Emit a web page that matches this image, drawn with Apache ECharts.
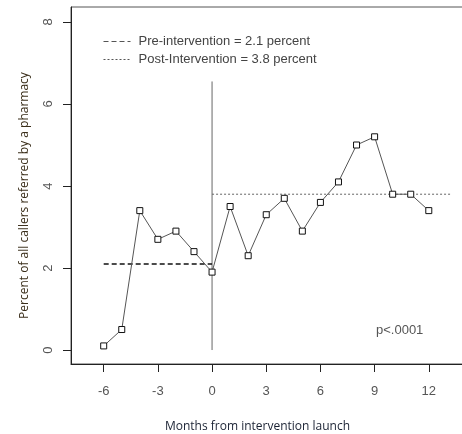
<!DOCTYPE html>
<html>
<head>
<meta charset="utf-8">
<script src="https://cdn.jsdelivr.net/npm/echarts@6/dist/echarts.min.js"></script>
<style>html,body{margin:0;padding:0;background:#fff;}#c{width:462px;height:434px;}</style>
</head>
<body>
<div id="c"></div>
<script>
var months = [-6,-5,-4,-3,-2,-1,0,1,2,3,4,5,6,7,8,9,10,11,12];
var percents = [0.1,0.5,3.4,2.7,2.9,2.4,1.9,3.5,2.3,3.3,3.7,2.9,3.6,4.1,5.0,5.2,3.8,3.8,3.4];
var xTicks = [-6,-3,0,3,6,9,12];
var yTicks = [0,2,4,6,8];
var preName = 'Pre-intervention = 2.1 percent';
var postName = 'Post-Intervention = 3.8 percent';
var preMean = 2.1, postMean = 3.8;
var preRange = [-6, 0];
var postRange = [0, 13.2];
var launchLine = [[0, 0], [0, 6.55]];
var pText = 'p<.0001';

var chart = echarts.init(document.getElementById('c'));
var tickFont = {fontFamily: 'Liberation Sans', fontSize: 13, color: '#555'};
chart.setOption({
  animation: false,
  grid: {left: 71, top: 7, right: -2, bottom: 70, show: true, borderColor: '#555', borderWidth: 1,
         containLabel: false, outerBoundsMode: 'none'},
  legend: {
    data: [preName, postName],
    orient: 'vertical', left: 98, top: 30, itemWidth: 27, itemHeight: 13, itemGap: 5,
    itemStyle: {color: 'transparent', borderWidth: 0, opacity: 0},
    lineStyle: {width: 1, color: '#555'},
    textStyle: {fontFamily: 'Liberation Sans', fontSize: 13, color: '#444', padding: [0,0,0,3]},
    selectedMode: false
  },
  xAxis: {
    type: 'value', min: -7.81, max: 13.95,
    name: 'Months from intervention launch', nameLocation: 'middle', nameGap: 57,
    nameTextStyle: {fontFamily: 'Open Sans', fontSize: 12, color: '#1a2233', padding: [0,20,0,0]},
    axisLine: {show: true, onZero: false, lineStyle: {color: '#222'}},
    axisTick: {show: true, length: 8, lineStyle: {color: '#222'}, customValues: xTicks},
    axisLabel: Object.assign({margin: 21, customValues: xTicks}, tickFont),
    splitLine: {show: false}
  },
  yAxis: {
    type: 'value', min: -0.341, max: 8.366,
    name: 'Percent of all callers referred by a pharmacy', nameLocation: 'middle', nameGap: 40, nameRotate: 90,
    nameTextStyle: {fontFamily: 'Open Sans', fontSize: 12, color: '#3a2e1a', padding: [0,20,0,0]},
    axisLine: {show: true, onZero: false, lineStyle: {color: '#222'}},
    axisTick: {show: true, length: 8, lineStyle: {color: '#222'}, customValues: yTicks},
    axisLabel: Object.assign({margin: 16, rotate: 90, customValues: yTicks}, tickFont),
    splitLine: {show: false}
  },
  graphic: [{
    type: 'text', left: 376, top: 324,
    style: {text: pText, fontFamily: 'Liberation Sans', fontSize: 13, fill: '#555'}
  }],
  series: [
    {
      name: 'launch', type: 'line', data: launchLine, symbol: 'none', silent: true,
      lineStyle: {color: '#666', width: 1}
    },
    {
      name: preName, type: 'line', symbol: 'none', silent: true,
      data: preRange.map(function (x) { return [x, preMean]; }),
      lineStyle: {color: '#111', width: 1.5, type: [5, 3]}
    },
    {
      name: postName, type: 'line', symbol: 'none', silent: true,
      data: postRange.map(function (x) { return [x, postMean]; }),
      lineStyle: {color: '#666', width: 1, type: [2, 2]}
    },
    {
      name: 'monthly', type: 'line', symbol: 'rect', symbolSize: 6,
      data: months.map(function (m, i) { return [m, percents[i]]; }),
      lineStyle: {color: '#555', width: 1},
      itemStyle: {color: '#fff', borderColor: '#111', borderWidth: 1}
    }
  ]
});
</script>
</body>
</html>
